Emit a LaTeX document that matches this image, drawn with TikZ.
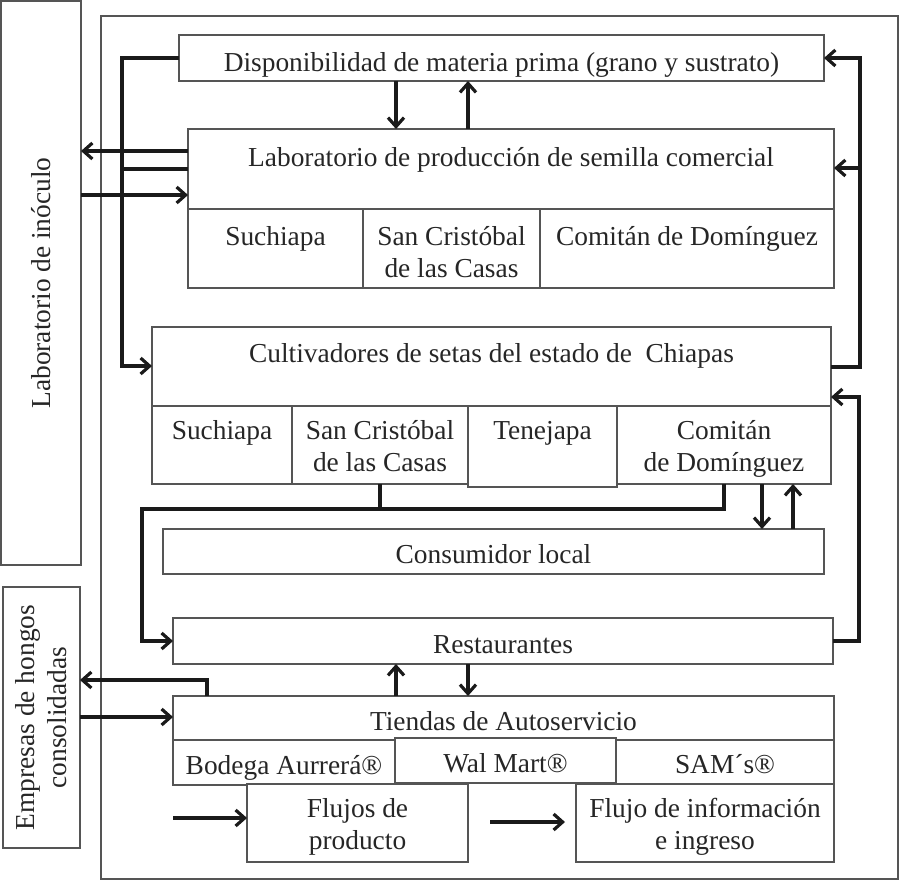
\documentclass[tikz,border=0pt]{standalone}
\usepackage{fontspec}
\setmainfont{Liberation Serif}
\usetikzlibrary{arrows.meta}
\definecolor{boxgray}{HTML}{555555}
\definecolor{linek}{HTML}{1A1A1A}
\newcommand{\mybox}[5]{\node[boxst, anchor=north west, minimum width={(#4)-(#2)}, minimum height={(#5)-(#3)}] (#1) at (#2,#3) {};}
\newcommand{\twol}[2]{\begin{tabular}[t]{@{}c@{}}#1\\#2\end{tabular}}
\begin{document}
\begin{tikzpicture}[x=1pt,y=-1pt,
  boxst/.style={draw=boxgray,line width=1.5pt,inner sep=0pt,outer sep=0pt,fill=white},
  txt/.style={font=\fontsize{27.4}{32}\selectfont,inner sep=0pt,text=black!85,anchor=base},
  conn/.style={draw=linek,line width=3.2pt,line join=miter,-{Straight Barb[length=9pt,width=16pt]}},
  link/.style={draw=linek,line width=3.2pt,line join=miter},
]
\useasboundingbox (0,0) rectangle (900,881);
% frames and side boxes
\node[draw=boxgray,line width=1.5pt,inner sep=0pt,anchor=north west,minimum width=797,minimum height=863] (frame) at (100,15) {};
\mybox{labin}{1}{1}{81}{565}
\mybox{emp}{3}{587}{80}{848}
\node[txt,anchor=center,rotate=90] (tlabin) at (labin.center) {Laboratorio de inóculo};
\node[txt,anchor=center,rotate=90,align=center] (temp) at (emp.center) {Empresas de hongos\\consolidadas};
% main boxes
\mybox{disp}{179}{35}{824}{81}
\mybox{lab}{188}{129}{834}{209}
\mybox{lsu}{188}{209}{363}{288}
\mybox{lsc}{363}{209}{540}{288}
\mybox{lco}{540}{209}{834}{288}
\mybox{cult}{152}{327}{831}{406}
\mybox{csu}{152}{406}{292}{484}
\mybox{csc}{292}{406}{468}{484}
\mybox{cte}{468}{406}{617}{487}
\mybox{ccom}{617}{406}{831}{484}
\mybox{cons}{163}{529}{824}{574}
\mybox{rest}{173}{618}{833}{664}
\mybox{tie}{173}{696}{834}{740}
\mybox{bod}{173}{740}{395}{785}
\mybox{sam}{616}{740}{834}{784}
\mybox{wal}{395}{738}{616}{783}
\mybox{fp}{247}{784}{468}{862}
\mybox{fi}{576}{784}{834}{862}
% texts
\node[txt] (tdisp) at (501.5,71) {Disponibilidad de materia prima (grano y sustrato)};
\node[txt] (tlab) at (511,166) {Laboratorio de producción de semilla comercial};
\node[txt] (tlsu) at (275.5,245) {Suchiapa};
\node[txt] (tlsc) at (451.5,245) {\twol{San Cristóbal}{de las Casas}};
\node[txt] (tlco) at (687,245) {Comitán de Domínguez};
\node[txt] (tcult) at (491.5,362) {Cultivadores de setas del estado de\ \ Chiapas};
\node[txt] (tcsu) at (222,439) {Suchiapa};
\node[txt] (tcsc) at (380,439) {\twol{San Cristóbal}{de las Casas}};
\node[txt] (tcte) at (542.5,439) {Tenejapa};
\node[txt] (tccom) at (724,439) {\twol{Comitán}{de Domínguez}};
\node[txt] (tcons) at (493.5,563) {Consumidor local};
\node[txt] (trest) at (503,653) {Restaurantes};
\node[txt] (ttie) at (503.5,730) {Tiendas de Autoservicio};
\node[txt] (tbod) at (284,774) {Bodega Aurrerá®};
\node[txt] (twal) at (505.5,772) {Wal Mart®};
\node[txt] (tsam) at (725,773) {SAM´s®};
\node[txt] (tfp) at (357.5,817) {\twol{Flujos de}{producto}};
\node[txt] (tfi) at (705,817) {\twol{Flujo de información}{e ingreso}};
% connectors
\draw[conn] (disp.south -| 396,0) -- (lab.north -| 396,0);
\draw[conn] (lab.north -| 468,0) -- (disp.south -| 468,0);
\draw[conn] (lab.west |- 0,151) -- (labin.east |- 0,151);
\draw[conn] (labin.east |- 0,195) -- (lab.west |- 0,195);
\coordinate (lv) at (122,366);
\draw[conn] (disp.west |- 0,58) -| (lv) -- (cult.west |- lv);
\draw[link] (lab.west |- 0,169) -- (lv |- 0,169);
\coordinate (rv) at (860,58);
\draw[conn] (cult.east |- 0,367) -| (rv) -- (disp.east |- rv);
\draw[conn] (rv |- 0,168) -- (lab.east |- 0,168);
\coordinate (rv2) at (859,397);
\draw[conn] (rest.east) -| (rv2) -- (cult.east |- rv2);
\coordinate (bl) at (142,509);
\draw[conn] (csc.south) |- (bl) |- (rest.west);
\draw[link] (ccom.south) |- (csc.south |- bl);
\draw[conn] (ccom.south -| 762,0) -- (cons.north -| 762,0);
\draw[conn] (cons.north -| 793,0) -- (ccom.south -| 793,0);
\draw[conn] (tie.north -| 396,0) -- (rest.south -| 396,0);
\draw[conn] (rest.south -| 468,0) -- (tie.north -| 468,0);
\draw[conn] (tie.north -| 207,0) |- (emp.east |- 0,680);
\draw[conn] (emp.east |- 0,717) -- (tie.west |- 0,717);
\coordinate (lg1) at (173,818);
\draw[conn] (lg1) -- (fp.west |- lg1);
\coordinate (lg2a) at (490,822);
\coordinate (lg2b) at (565,822);
\draw[conn] (lg2a) -- (lg2b);
\end{tikzpicture}
\end{document}
